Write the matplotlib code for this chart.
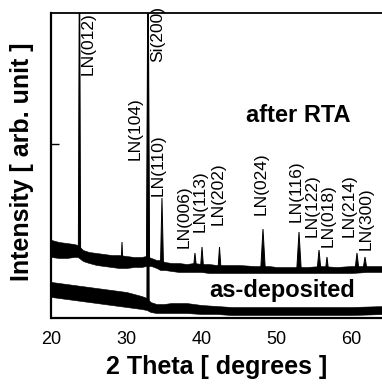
import matplotlib
matplotlib.use("Agg")
import matplotlib.pyplot as plt
import numpy as np

# ---------------- data ----------------
# after RTA: noise band envelope (2theta, lower, upper)
rta_theta = [20.0, 21.0, 22.0, 23.0, 23.5, 24.2, 25.0, 26.0, 27.0, 28.0, 29.0, 30.0,
             31.0, 32.0, 32.6, 33.3, 34.0, 34.5, 35.1, 36.0, 37.0, 38.0, 39.0, 40.0,
             41.0, 42.0, 43.0, 45.0, 47.0, 48.0, 49.0, 50.0, 52.0, 54.0, 56.0, 58.0,
             60.0, 62.0, 64.0, 64.5]
rta_lo = [61, 60, 60, 61, 61, 57, 55, 53, 52, 51, 50, 50,
          51, 51, 52, 52, 50, 48, 48, 47, 46, 46, 46, 46,
          45, 45, 45, 45, 45, 45, 45, 45, 45, 45, 45, 45,
          45, 46, 46, 46]
rta_hi = [78, 76, 75, 74, 73, 68, 66, 65, 64, 63, 63, 62,
          61, 61, 62, 60, 58, 58, 56, 55, 55, 54, 55, 54,
          54, 53, 53, 53, 52, 52, 52, 51, 51, 51, 52, 51,
          52, 52, 52, 52]
# after RTA peaks: position, top, half width, foot level
rta_peak_pos = [23.73, 29.4, 32.87, 34.73, 39.13, 40.07, 42.4, 48.2, 53.0, 55.67, 56.73, 60.73, 61.8]
rta_peak_top = [400, 76, 400, 120, 65, 71, 71, 89, 86, 68, 61, 65, 61]
rta_peak_hw = [0.15, 0.1, 0.2, 0.2, 0.2, 0.2, 0.2, 0.3, 0.3, 0.25, 0.2, 0.25, 0.25]
rta_peak_foot = [66, 58, 57, 53, 50, 50, 49, 49, 48, 48, 48, 49, 49]

# as-deposited: noise band envelope
dep_theta = [20, 21, 22, 23, 24, 25, 26, 27, 28, 29, 30, 31, 32, 32.7,
             33.2, 34, 35, 36, 38, 40, 42, 44, 46, 50, 55, 60, 64.5]
dep_lo = [21, 20, 19, 18, 17, 16, 15, 14, 13, 12, 11, 10, 9, 8,
          6, 5, 5, 5, 5, 4, 4, 3, 3, 3, 3, 3, 4]
dep_hi = [36, 35, 34, 33, 32, 31, 30, 29, 28, 27, 26, 24, 22, 20,
          16, 14, 14, 15, 15, 13, 12, 11, 11, 11, 11, 11, 12]
dep_peak_pos = [32.87]
dep_peak_top = [400]
dep_peak_hw = [0.15]
dep_peak_foot = [14]

# peak labels: text, 2theta (center), intensity (bottom of text)
label_text = ["LN(012)", "Si(200)", "LN(104)", "LN(110)", "LN(006)", "LN(113)", "LN(202)",
              "LN(024)", "LN(116)", "LN(122)", "LN(018)", "LN(214)", "LN(300)"]
label_x = [24.87, 34.2, 31.13, 34.2, 37.67, 39.8, 42.2, 47.93, 52.6, 54.72, 56.9, 59.67, 61.95]
label_y = [243, 256, 158, 122, 70, 86, 93, 103, 96, 81, 71, 81, 68]

xtick_vals = [20, 30, 40, 50, 60]

# ---------------- figure ----------------
plt.rcParams['font.family'] = ['Liberation Sans', 'DejaVu Sans']
fig = plt.figure(figsize=(3.82, 3.88), dpi=100)
ax = fig.add_axes([51.5 / 382, 70 / 388, 1 - 51.5 / 382, 305 / 388])

def draw_trace(theta, lo, hi, ppos, ptop, phw, pfoot):
    ax.fill_between(theta, lo, hi, color='black', linewidth=0.4, edgecolor='black')
    for p, t, w, f in zip(ppos, ptop, phw, pfoot):
        ax.fill([p - w, p, p + w], [f, t, f], color='black', linewidth=0.7, edgecolor='black')

draw_trace(rta_theta, rta_lo, rta_hi, rta_peak_pos, rta_peak_top, rta_peak_hw, rta_peak_foot)
draw_trace(dep_theta, dep_lo, dep_hi, dep_peak_pos, dep_peak_top, dep_peak_hw, dep_peak_foot)

for t, x, y in zip(label_text, label_x, label_y):
    ax.text(x, y, t, rotation=90, ha='center', va='bottom', fontsize=12.5, clip_on=False)

ax.text(52.87, 203, "after RTA", ha='center', va='center', fontsize=17, fontweight='bold')
ax.text(50.73, 27, "as-deposited", ha='center', va='center', fontsize=17, fontweight='bold')

ax.set_xlim(20, 20 + (382 - 51.5) / 7.5)
ax.set_ylim(0, 305)
ax.set_xticks(xtick_vals)
ax.set_xticklabels([str(v) for v in xtick_vals], fontsize=13)
ax.set_xticks([30], minor=True)
ax.set_yticks([174])
ax.set_yticklabels([])
ax.tick_params(axis='x', which='major', length=0, pad=9)
ax.tick_params(axis='x', which='minor', length=5, direction='in', width=1)
ax.tick_params(axis='y', which='major', length=6, direction='in', width=1)

for s in ['left', 'bottom']:
    ax.spines[s].set_linewidth(1.6)
ax.spines['top'].set_linewidth(1.3)
ax.spines['right'].set_visible(False)

fig.text(217 / 382, 1 - 367 / 388, "2 Theta [ degrees ]", ha='center', va='center',
         fontsize=18, fontweight='bold')
fig.text(22 / 382, 1 - 162 / 388, "Intensity [ arb. unit ]", ha='center', va='center',
         rotation=90, fontsize=18, fontweight='bold')

fig.savefig("out.png", dpi=100)
